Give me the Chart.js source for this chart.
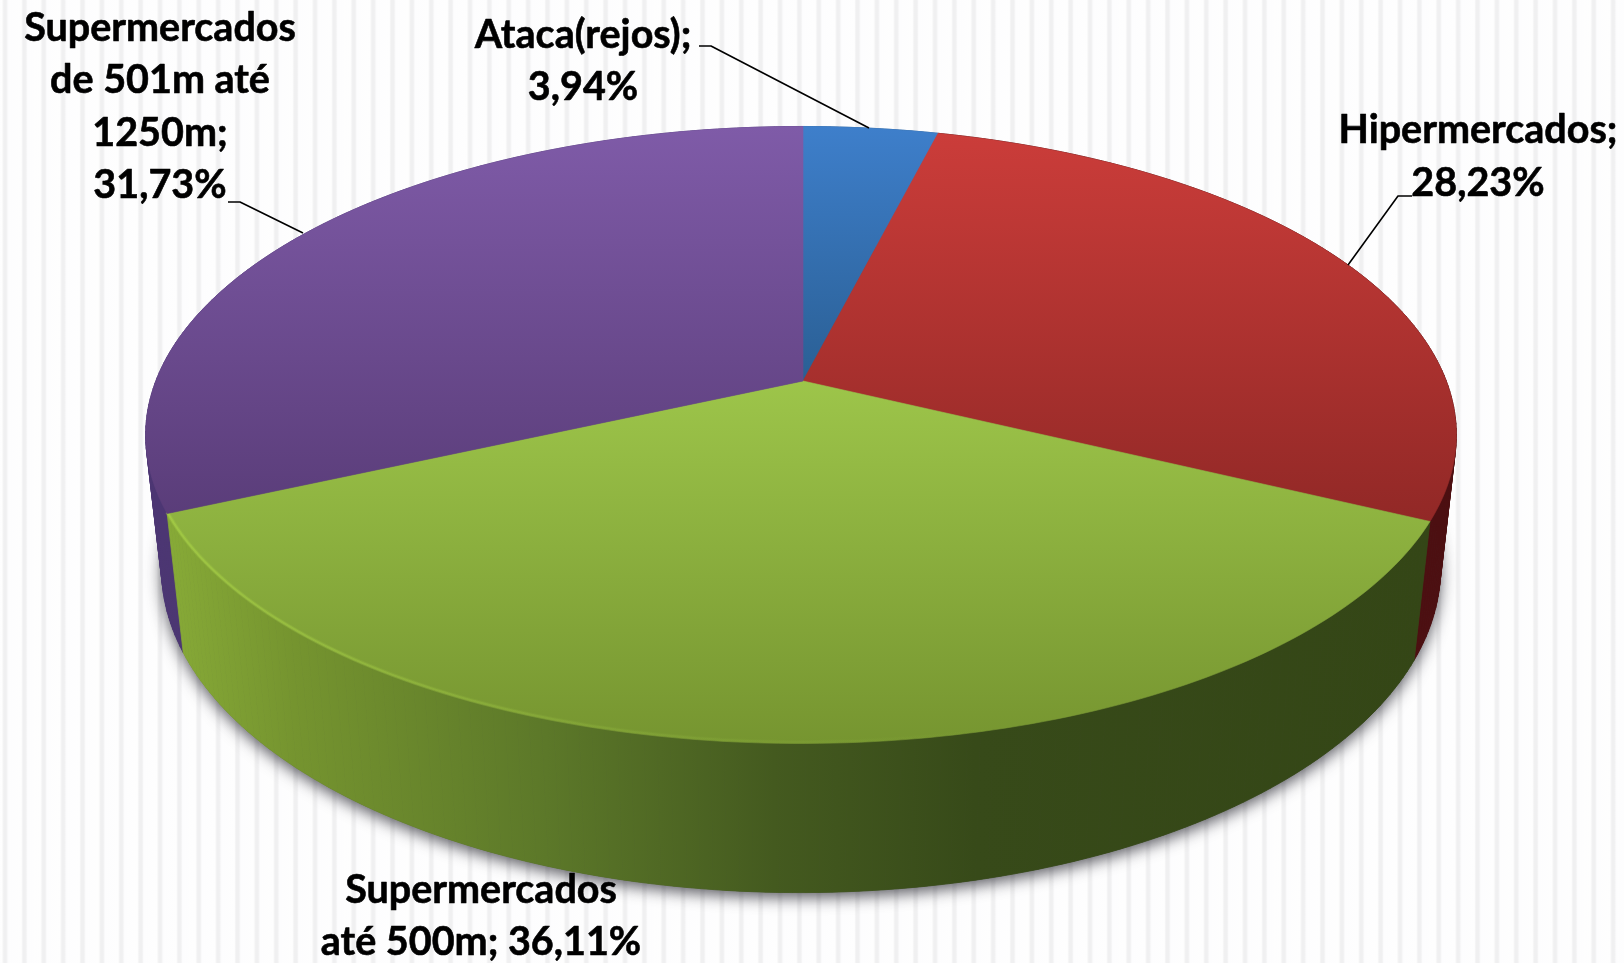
<!DOCTYPE html>
<html lang="pt"><head><meta charset="utf-8">
<style>
html,body{margin:0;padding:0;width:1624px;height:963px;overflow:hidden;background:#fefefe}
#bg{position:absolute;left:0;top:0;width:1624px;height:963px;background-position:3.5px 0;background-size:19.38px 100%;
background-image:linear-gradient(90deg,#f0f0f1 0,#f0f0f1 3px,#fdfdfe 4.6px,#fefefe 17.8px,#f0f0f1 19.38px)}
canvas{position:absolute;left:0;top:0}
</style>
<script src="https://cdn.jsdelivr.net/npm/chart.js@4/dist/chart.umd.js"></script>
</head><body><div id="bg"></div><canvas id="c" width="1624" height="963"></canvas>
<script>
const categories=["Ataca(rejos)","Hipermercados","Supermercados até 500m","Supermercados de 501m até 1250m"];
const shares=[3.94,28.23,36.11,31.73];
const labelBreaks=[["Ataca(rejos);"],["Hipermercados;"],["Supermercados","até 500m;"],["Supermercados","de 501m até","1250m;"]];
const topColors=[["#3e7fcb","#2a5f94"],["#cc3d3a","#912826"],["#9dc54a","#769530"],["#7f5ba8","#593c78"]];
const sideStops=[[[0,"#87aa37"],[0.1,"#75942f"],[0.3,"#5c7829"],[0.48,"#445a1f"],[0.64,"#374a19"],[1,"#344616"]]];
const sideFlat=[["#2a5f94","#2a5f94"],["#3f0c0e","#4c0f11"],null,["#4c3673","#4c3673"]];

// label layout (not data)
const labelLayout=[
 {x:583,base:[48,100],line:[[699,46],[711,46],[869,128]],merge:false},
 {x:1478,base:[143,196],line:[[1412,196],[1398,196],[1348,265]],merge:false},
 {x:481,base:[903,955],line:null,merge:true},
 {x:160,base:[41,93,146,198],line:[[228,202],[240,202],[303,233]],merge:false}];
// perspective constants, relative to the pie's radius
const P={a:1.698,b:0.787,k:0.175,m:0.024,c:0.356,e:0.003};
function project(arc,theta,z){
  const X=Math.sin(theta),Y=-Math.cos(theta),r=arc.outerRadius;
  const w=1-P.k*Y+P.m*z+P.e*X;
  return [arc.x+r*P.a*X/w, arc.y+r*(P.b*Y+P.c*z)/w];
}
const TWO=Math.PI/2, STEP=Math.PI/180;
function angles(arc){
  const s=arc.startAngle+TWO,e=arc.endAngle+TWO,out=[];
  const n=Math.max(2,Math.ceil((e-s)/STEP));
  for(let i=0;i<=n;i++)out.push(s+(e-s)*i/n);
  return out;
}
class Arc3D extends Chart.ArcElement{
  drawSide(ctx){
    const i=this.$context.index, th=angles(this);
    const g=ctx.createLinearGradient(168,0,1430,0);
    if(i===2)sideStops[0].forEach(s=>g.addColorStop(s[0],s[1]));
    else{g.addColorStop(0,sideFlat[i][0]);g.addColorStop(1,sideFlat[i][1]);}
    ctx.fillStyle=g;ctx.strokeStyle=g;ctx.lineWidth=0.8;
    for(let j=0;j<th.length-1;j++){
      const a=project(this,th[j],0),b=project(this,th[j+1],0),c=project(this,th[j+1],1),d=project(this,th[j],1);
      ctx.beginPath();ctx.moveTo(a[0],a[1]);ctx.lineTo(b[0],b[1]);ctx.lineTo(c[0],c[1]);ctx.lineTo(d[0],d[1]);ctx.closePath();
      ctx.fill();ctx.stroke();
    }
  }
  draw(ctx){
    const i=this.$context.index, th=angles(this);
    const y0=i===2?this.y:126, y1=i===2?743:(i===0?this.y:525);
    const g=ctx.createLinearGradient(0,y0,0,y1);
    g.addColorStop(0,topColors[i][0]);g.addColorStop(1,topColors[i][1]);
    ctx.beginPath();ctx.moveTo(this.x,this.y);
    th.forEach(t=>{const p=project(this,t,0);ctx.lineTo(p[0],p[1]);});
    ctx.closePath();ctx.fillStyle=g;ctx.fill();
    ctx.strokeStyle=g;ctx.lineWidth=0.6;ctx.stroke();
    if(i===2){ // soft bevel highlight on the front rim, lit from the left
      const rim=ctx.createLinearGradient(168,0,1000,0);
      rim.addColorStop(0,"rgba(172,214,70,.6)");rim.addColorStop(0.5,"rgba(160,200,70,.22)");rim.addColorStop(1,"rgba(150,190,70,0)");
      ctx.save();ctx.lineJoin="round";
      [[4,.4],[2,.8]].forEach(w=>{
        ctx.beginPath();
        th.forEach((t,n)=>{const p=project(this,t,0);const yy=p[1]-1.5;n?ctx.lineTo(p[0],yy):ctx.moveTo(p[0],yy);});
        ctx.globalAlpha=w[1];ctx.strokeStyle=rim;ctx.lineWidth=w[0];ctx.stroke();
      });
      ctx.restore();
    }
  }
}
Arc3D.id="arc3d";
class Pie3D extends Chart.PieController{
  draw(){
    const ctx=this.chart.ctx, els=this.getMeta().data;
    // ground shadow beneath the lower disc
    ctx.save();
    ctx.shadowColor="rgba(30,30,40,.72)";ctx.shadowBlur=15;ctx.shadowOffsetX=0;ctx.shadowOffsetY=5;
    ctx.fillStyle="#444";ctx.beginPath();
    els.forEach(el=>angles(el).forEach(t=>{const p=project(el,t,1);ctx.lineTo(p[0],p[1]);}));
    ctx.closePath();ctx.fill();ctx.restore();
    [3,1,0,2].forEach(i=>els[i].drawSide(ctx));
    els.forEach(el=>el.draw(ctx));
  }
}
Pie3D.id="pie3d";
Pie3D.defaults={dataElementType:"arc3d"};
Chart.register(Arc3D,Pie3D);

const fmt=v=>v.toFixed(2).replace(".",",")+"%";
const labelPlugin={id:"labels3d",afterDraw(chart){
  const ctx=chart.ctx;ctx.save();
  ctx.fillStyle="#000";ctx.strokeStyle="#000";ctx.font="700 39.5px Lato";ctx.textAlign="center";ctx.textBaseline="alphabetic";ctx.lineJoin="round";
  categories.forEach((c,i)=>{
    const L=labelLayout[i],lines=labelBreaks[i].slice(),val=fmt(shares[i]);
    if(L.merge)lines[lines.length-1]+=" "+val;else lines.push(val);
    lines.forEach((t,n)=>{ctx.lineWidth=0.6;ctx.fillText(t,L.x,L.base[n]);ctx.strokeText(t,L.x,L.base[n]);});
    if(L.line){ctx.beginPath();L.line.forEach((p,n)=>n?ctx.lineTo(p[0],p[1]):ctx.moveTo(p[0],p[1]));
      ctx.lineWidth=1.6;ctx.stroke();}
  });
  ctx.restore();
}};
function build(){
new Chart(document.getElementById("c"),{
  type:"pie3d",
  data:{labels:categories,datasets:[{data:shares,backgroundColor:topColors.map(c=>c[0])}]},
  options:{responsive:false,animation:false,devicePixelRatio:1,
    layout:{padding:{left:0,right:18,top:0,bottom:201}},
    plugins:{legend:{display:false},tooltip:{enabled:false}}},
  plugins:[labelPlugin]
});
}
(document.fonts&&document.fonts.load?document.fonts.load("700 39.5px Lato"):Promise.resolve()).then(build,build);
</script></body></html>
